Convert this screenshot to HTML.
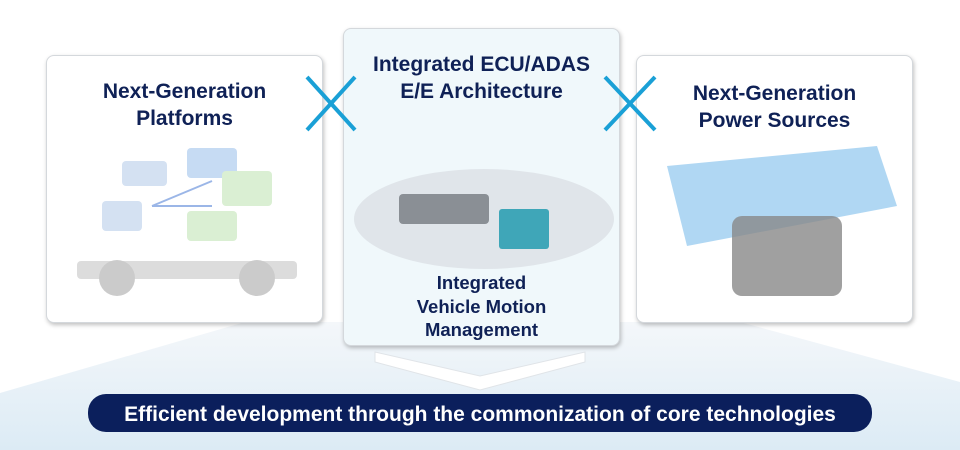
<!DOCTYPE html>
<html><head><style>
body{margin:0;width:960px;height:450px;overflow:hidden;background:#fff;font-family:"Liberation Sans",sans-serif;position:relative}
.card{position:absolute;border:1px solid #d4d8dc;border-radius:8px;box-shadow:1px 2px 4px rgba(0,0,0,.25);background:#fff}
.t{position:absolute;left:-20px;right:-20px;text-align:center;color:#0f2156;font-weight:bold;font-size:21px;line-height:27px}
</style></head><body>
<svg width="960" height="450" style="position:absolute;left:0;top:0">
<defs><linearGradient id="g" x1="0" y1="0" x2="0" y2="1"><stop offset="0" stop-color="#f4f7fa"/><stop offset="1" stop-color="#dcebf5"/></linearGradient></defs>
<polygon points="245,322 740,322 960,382 960,450 0,450 0,393" fill="url(#g)"/>
</svg>
<div class="card" style="left:46px;top:55px;width:275px;height:266px">
<div class="t" style="top:22px">Next-Generation<br>Platforms</div>
<svg width="275" height="266" style="position:absolute;left:0;top:0">
<g opacity=".5"><rect x="140" y="92" width="50" height="30" fill="#8fb8e8" rx="4"/><rect x="75" y="105" width="45" height="25" fill="#aac4e6" rx="4"/><rect x="175" y="115" width="50" height="35" fill="#b6e0a8" rx="4"/><rect x="140" y="155" width="50" height="30" fill="#b6e0a8" rx="4"/><rect x="55" y="145" width="40" height="30" fill="#aac4e6" rx="4"/>
<line x1="105" y1="150" x2="165" y2="125" stroke="#3a6fd0" stroke-width="2"/><line x1="105" y1="150" x2="165" y2="150" stroke="#3a6fd0" stroke-width="2"/>
<rect x="30" y="205" width="220" height="18" fill="#bbb" rx="4"/><circle cx="70" cy="222" r="18" fill="#999"/><circle cx="210" cy="222" r="18" fill="#999"/></g>
</svg></div>
<div class="card" style="left:343px;top:28px;width:275px;height:316px;background:#f0f8fb">
<div class="t" style="top:22px">Integrated ECU/ADAS<br>E/E Architecture</div>
<svg width="275" height="316" style="position:absolute;left:0;top:0">
<ellipse cx="140" cy="190" rx="130" ry="50" fill="#d8dde2" opacity=".7"/><rect x="55" y="165" width="90" height="30" fill="#8a8f95" rx="4"/><rect x="155" y="180" width="50" height="40" fill="#3fa6b8" rx="3"/></svg>
<div class="t" style="top:242px;font-size:18.5px;line-height:23.5px">Integrated<br>Vehicle Motion<br>Management</div>
</div>
<div class="card" style="left:636px;top:55px;width:275px;height:266px">
<div class="t" style="top:24px">Next-Generation<br>Power Sources</div>
<svg width="275" height="266" style="position:absolute;left:0;top:0">
<polygon points="30,110 240,90 260,150 50,190" fill="#8fc6ee" opacity=".7"/><rect x="95" y="160" width="110" height="80" fill="#888" rx="10" opacity=".8"/></svg>
</div>
<svg width="960" height="450" style="position:absolute;left:0;top:0">
<g stroke="#1aa0d6" stroke-width="4"><line x1="307" y1="77" x2="355" y2="130"/><line x1="355" y1="77" x2="307" y2="130"/>
<line x1="605" y1="77" x2="655" y2="130"/><line x1="655" y1="77" x2="605" y2="130"/></g>
<polygon points="375,352 480,376 585,352 585,362 480,390 375,362" fill="#fff" stroke="#e0e4e8"/>
<rect x="88" y="394" width="784" height="38" rx="18" fill="#0b1f5c"/>
<text x="480" y="421" text-anchor="middle" fill="#fff" font-family="Liberation Sans" font-weight="bold" font-size="21">Efficient development through the commonization of core technologies</text>
</svg>
</body></html>
